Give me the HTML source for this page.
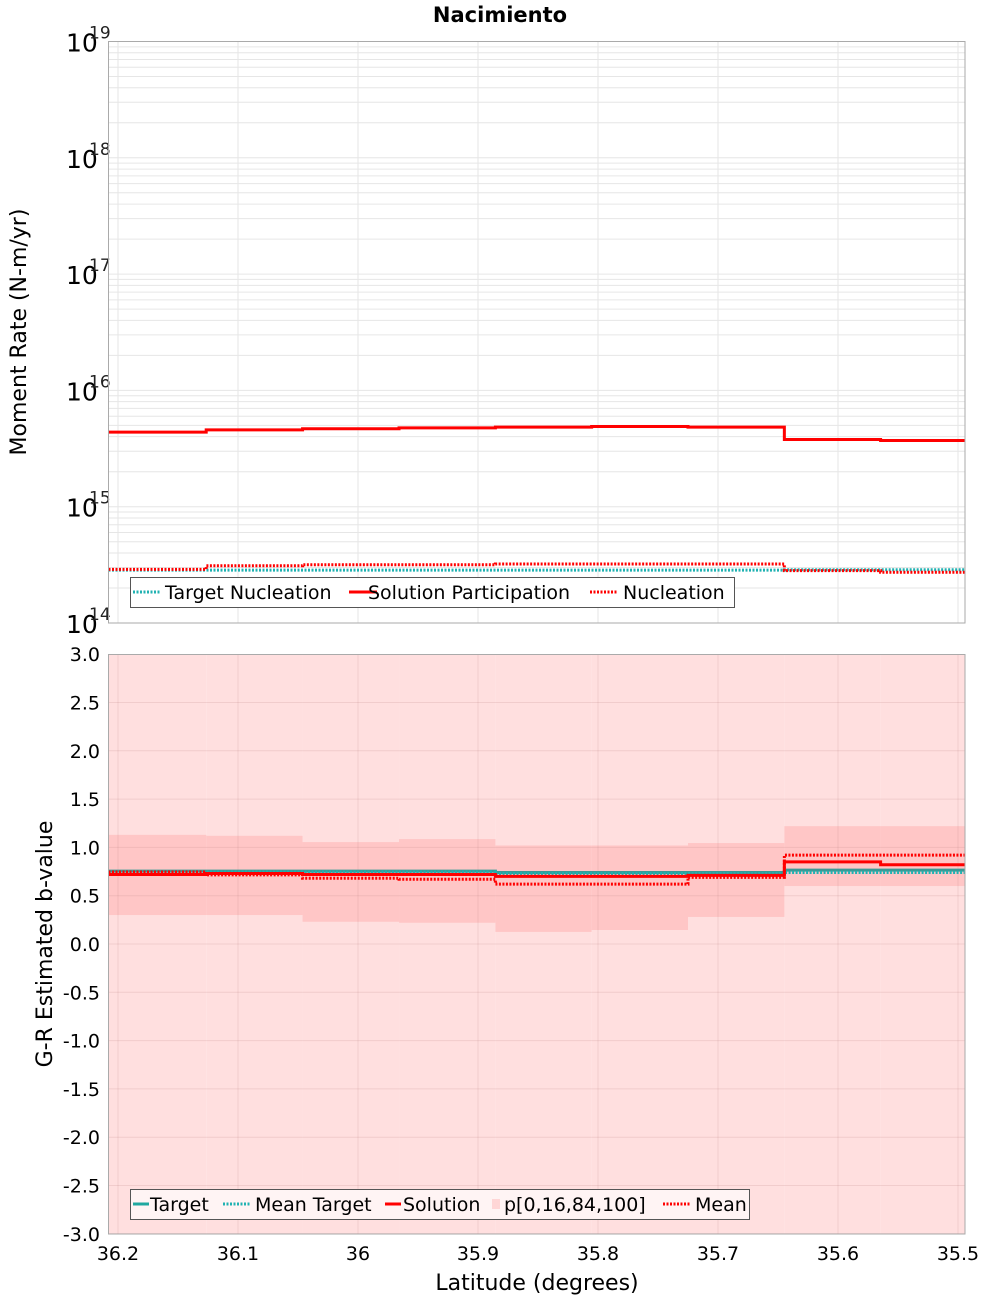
<!DOCTYPE html>
<html><head><meta charset="utf-8"><style>
body{margin:0;background:#fff;}
svg text{font-family:"DejaVu Sans","Liberation Sans",sans-serif;}
</style></head><body>
<svg id="c" width="1000" height="1300" xmlns="http://www.w3.org/2000/svg">
<text x="500" y="22" text-anchor="middle" font-size="21" font-weight="bold">Nacimiento</text>
<text transform="translate(26,332) rotate(-90)" text-anchor="middle" font-size="22">Moment Rate (N-m/yr)</text>
<text transform="translate(52,944) rotate(-90)" text-anchor="middle" font-size="22">G-R Estimated b-value</text>
<text x="537" y="1290" text-anchor="middle" font-size="22">Latitude (degrees)</text>
<g id="topg"></g><g id="botg"></g>
</svg>
<script>
// segment boundaries (latitude)
const bounds=[36.2083,36.1265,36.0462,35.9658,35.8855,35.8053,35.7250,35.6447,35.5645,35.4942];
// top panel (log10 values)
const participation=[15.641,15.661,15.670,15.678,15.684,15.690,15.684,15.578,15.569];
const nucleation=[14.461,14.492,14.501,14.501,14.507,14.507,14.507,14.450,14.436];
const targetNucleation=[14.455,14.455,14.455,14.455,14.455,14.455,14.455,14.458,14.458];
const logTicks=[14,15,16,17,18,19];
// bottom panel
const bTarget=[0.755,0.755,0.755,0.755,0.74,0.74,0.74,0.765,0.765];
const bMeanTarget=[0.745,0.745,0.745,0.745,0.73,0.73,0.73,0.74,0.74];
const bSolution=[0.72,0.73,0.72,0.72,0.70,0.70,0.71,0.85,0.82];
const bMean=[0.745,0.715,0.68,0.67,0.62,0.62,0.69,0.92,0.92];
const p16=[0.30,0.30,0.23,0.22,0.125,0.145,0.28,0.60,0.60];
const p84=[1.13,1.12,1.055,1.086,1.02,1.02,1.045,1.22,1.22];
const p0=[-3.5,-3.5,-3.5,-3.5,-3.5,-3.5,-3.5,-3.5,-3.5];
const p100=[3.5,3.5,3.5,3.5,3.5,3.5,3.5,3.5,3.5];
const bTicks=[-3,-2.5,-2,-1.5,-1,-0.5,0,0.5,1,1.5,2,2.5,3];
const xTicks=[36.2,36.1,36,35.9,35.8,35.7,35.6,35.5];
const xLabels=["36.2","36.1","36","35.9","35.8","35.7","35.6","35.5"];

const NS="http://www.w3.org/2000/svg";
const L=108.5,R=965;
const X=v=>118+(36.2-v)*1200;
const TT=41.5,TB=623;
const YT=v=>TB-(v-14)*(TB-TT)/5;
const BT=654.5,BB=1234;
const YB=v=>944-v*96.6;
function el(par,t,a){const e=document.createElementNS(NS,t);for(const k in a)e.setAttribute(k,a[k]);par.appendChild(e);return e;}
function stepPath(vals,Y){let d="";for(let i=0;i<vals.length;i++){const x0=Math.max(L,X(bounds[i])),x1=Math.min(R,X(bounds[i+1]));d+=(i?"L":"M")+x0+","+Y(vals[i])+"L"+x1+","+Y(vals[i]);}return d;}
const topG=document.getElementById('topg'),botG=document.getElementById('botg');
// top panel
const tpa=el(topG,'rect',{x:L,y:TT,width:R-L,height:TB-TT,fill:'#fff'});


for(let d=14;d<19;d++)for(let m=1;m<10;m++){const y=YT(d+Math.log10(m));const g=el(topG,'line',{x1:L,x2:R,y1:y,y2:y,stroke:'#e6e6e6','stroke-width':1});

}
xTicks.forEach(v=>{const g=el(topG,'line',{x1:X(v),x2:X(v),y1:TT,y2:TB,stroke:'#e6e6e6'});

});
logTicks.forEach(t=>{const y=YT(t);const tx=el(topG,'text',{x:66,y:y+10,'font-size':25});tx.textContent='10';


const s=el(topG,'text',{x:89,y:y-3,'font-size':17,fill:'#222'});s.textContent=String(t);

});
let pth;
pth=el(topG,'path',{d:stepPath(targetNucleation,YT),fill:'none',stroke:'#20b2b2','stroke-width':3,'stroke-dasharray':'2,1.5'});


pth=el(topG,'path',{d:stepPath(participation,YT),fill:'none',stroke:'#ff0000','stroke-width':3});


pth=el(topG,'path',{d:stepPath(nucleation,YT),fill:'none',stroke:'#ff0000','stroke-width':3,'stroke-dasharray':'2,1.5'});


el(topG,'rect',{x:L,y:TT,width:R-L,height:TB-TT,fill:'none',stroke:'#aaa'});
// top legend
const lg=el(topG,'g',{});


el(lg,'rect',{x:130.5,y:577.5,width:604,height:30,fill:'#fff',stroke:'#555'});
[[133,'#20b2b2',true,'Target Nucleation',165],[349,'#ff0000',false,'Solution Participation',368],[590,'#ff0000',true,'Nucleation',623]].forEach(a=>{
const sw=el(lg,'line',{x1:a[0],x2:a[0]+28,y1:592,y2:592,stroke:a[1],'stroke-width':3,'stroke-dasharray':a[2]?'2,1.5':'none'});


const t=el(lg,'text',{x:a[4],y:599,'font-size':19});t.textContent=a[3];

});
// bottom panel
el(botG,'rect',{x:L,y:BT,width:R-L,height:BB-BT,fill:'#fff'});
const cl=el(botG,'clipPath',{id:'bc'});el(cl,'rect',{x:L,y:BT,width:R-L,height:BB-BT});
const bg=el(botG,'g',{'clip-path':'url(#bc)'});
for(let i=0;i<p0.length;i++){const x0=Math.max(L,X(bounds[i])),x1=Math.min(R,X(bounds[i+1]));
const r1=el(bg,'rect',{x:x0,y:YB(p100[i]),width:x1-x0,height:YB(p0[i])-YB(p100[i]),fill:'#ffdfdf'});

}
for(let i=0;i<p16.length;i++){const x0=Math.max(L,X(bounds[i])),x1=Math.min(R,X(bounds[i+1]));
const r2=el(bg,'rect',{x:x0,y:YB(p84[i]),width:x1-x0,height:YB(p16[i])-YB(p84[i]),fill:'#ffc6c6'});

}
bTicks.forEach(t=>{const y=YB(t);el(bg,'line',{x1:L,x2:R,y1:y,y2:y,stroke:'rgba(180,120,120,0.18)'});
const tx=el(botG,'text',{x:100,y:y+7,'font-size':19,'text-anchor':'end'});tx.textContent=t.toFixed(1);

});
xTicks.forEach((v,i)=>{el(bg,'line',{x1:X(v),x2:X(v),y1:BT,y2:BB,stroke:'rgba(180,120,120,0.18)'});
const tx=el(botG,'text',{x:X(v),y:1260,'font-size':19,'text-anchor':'middle'});tx.textContent=xLabels[i];

});
pth=el(bg,'path',{d:stepPath(bTarget,YB),fill:'none',stroke:'#3a9a96','stroke-width':3});


pth=el(bg,'path',{d:stepPath(bMeanTarget,YB),fill:'none',stroke:'#20b2b2','stroke-width':3,'stroke-dasharray':'2,1.5'});


pth=el(bg,'path',{d:stepPath(bSolution,YB),fill:'none',stroke:'#ff0000','stroke-width':3});


pth=el(bg,'path',{d:stepPath(bMean,YB),fill:'none',stroke:'#ff0000','stroke-width':3,'stroke-dasharray':'2,1.5'});


el(botG,'rect',{x:L,y:BT,width:R-L,height:BB-BT,fill:'none',stroke:'#aaa'});
const bl=el(botG,'g',{});


el(bl,'rect',{x:130.5,y:1189.5,width:619,height:30,fill:'#fff4f4',stroke:'#555'});
[[133,'#20a8a0',0,'Target',150],[223,'#20b2b2',1,'Mean Target',255],[385,'#ff0000',0,'Solution',403],[492,'#ffd6d6',2,'p[0,16,84,100]',504],[663,'#ff0000',1,'Mean',695]].forEach(a=>{
if(a[2]==2)el(bl,'rect',{x:a[0],y:1199,width:8,height:10,fill:a[1]});
else el(bl,'line',{x1:a[0],x2:a[0]+(a[2]?28:16),y1:1204,y2:1204,stroke:a[1],'stroke-width':3,'stroke-dasharray':a[2]?'2,1.5':'none'});
const t=el(bl,'text',{x:a[4],y:1211,'font-size':19});t.textContent=a[3];

});
</script>
</body></html>
